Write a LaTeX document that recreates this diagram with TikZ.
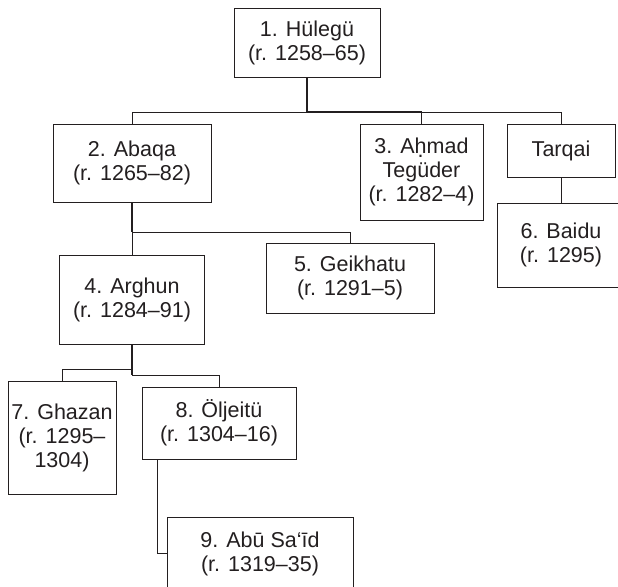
\documentclass[tikz,border=0pt]{standalone}
\usepackage{fontspec}
\setmainfont{Liberation Sans}
\newcommand\hdotbelow{\ooalign{h\cr\hidewidth\raisebox{-0.2em}{.}\hidewidth\cr}}
\definecolor{ink}{HTML}{231F20}
\tikzset{
  box/.style={draw=ink, line width=0.9pt, rectangle, inner sep=0pt, align=center,
    text=ink, font=\fontsize{21.5}{24}\selectfont},
  link/.style={draw=ink, line width=0.9pt},
  heavy/.style={draw=ink, line width=1.7pt}
}
\begin{document}
\begin{tikzpicture}[x=1pt,y=-1pt]
\useasboundingbox (0,0) rectangle (618,586);
\clip (0,0) rectangle (618,586);
\fill[white] (0,0) rectangle (618,586);
% boxes
\node[box, minimum width=146pt, minimum height=69pt] (h1) at (307,42.5) {1. Hülegü\\(r. 1258–65)};
\node[box, minimum width=158pt, minimum height=78pt] (a2) at (132,163) {2. Abaqa\\(r. 1265–82)};
\node[box, minimum width=123pt, minimum height=96pt] (a3) at (421.5,172) {3. A\hdotbelow mad\\Tegüder\\(r. 1282–4)};
\node[box, minimum width=108pt, minimum height=53pt] (t) at (561,150.5) {Tarqai};
\node[box, minimum width=128pt, minimum height=84pt] (b6) at (561,245) {6. Baidu\\(r. 1295)};
\node[box, minimum width=168pt, minimum height=70pt] (g5) at (350,278) {5. Geikhatu\\(r. 1291–5)};
\node[box, minimum width=145pt, minimum height=89pt] (r4) at (132,299.5) {4. Arghun\\(r. 1284–91)};
\node[box, minimum width=108pt, minimum height=113pt] (z7) at (62,437.5) {7. Ghazan\\(r. 1295–\\1304)};
\node[box, minimum width=154pt, minimum height=72pt] (o8) at (219,423) {8. Öljeitü\\(r. 1304–16)};
\node[box, minimum width=186pt, minimum height=73pt] (s9) at (260,553.5) {9. Abū Sa‘īd\\(r. 1319–35)};
% connectors
\coordinate (j1) at (307,112);
\draw[link] (a2.north) |- (j1);
\draw[link] (a3.north) |- (j1);
\draw[link] (t.north) |- (j1);
\draw[heavy] (h1.south) -- (j1) -- (j1 -| a3.north);
\draw[link] (t.south) -- (t.south |- b6.north);
\coordinate (j2) at (132,232);
\draw[link] (j2) -- (r4.north);
\draw[link] (j2) -| (g5.north);
\draw[heavy] (a2.south) -- (j2);
\coordinate (j3) at (132,375);
\coordinate (j4) at (132,369);
\draw[link] (j4) -| (z7.north);
\draw[link] (j3) -| (o8.north);
\draw[heavy] (r4.south) -- (j3);
\draw[link] ([xshift=-62pt]o8.south) |- (s9.west);
\end{tikzpicture}
\end{document}
